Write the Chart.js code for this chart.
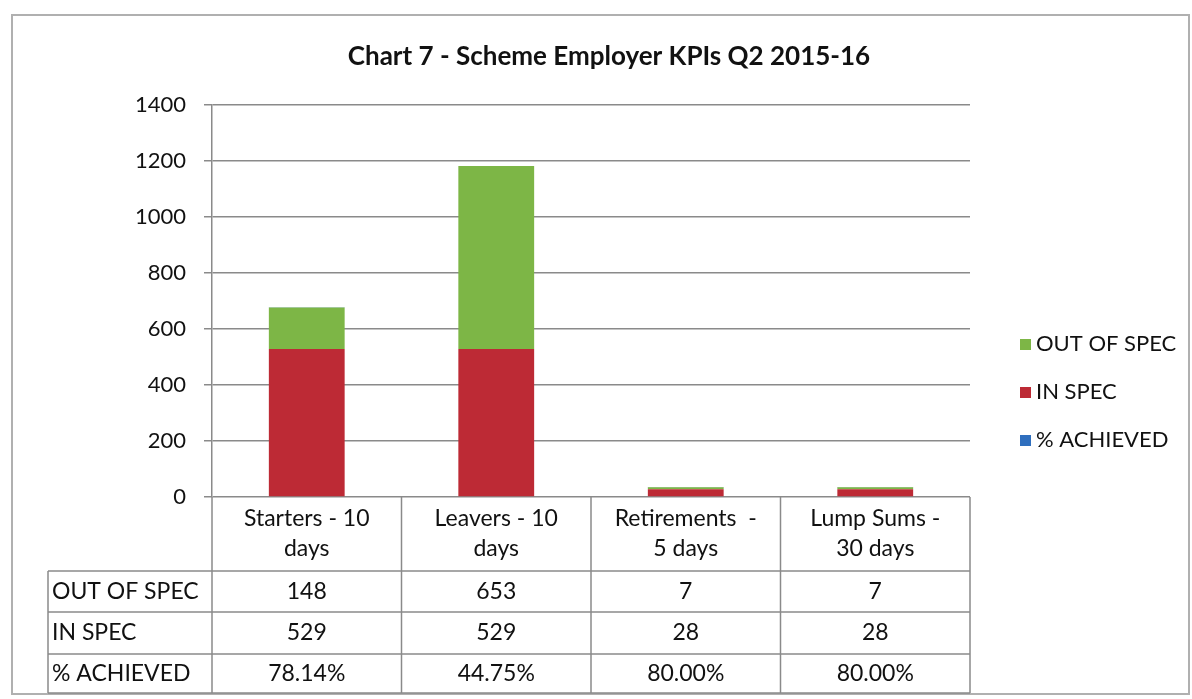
<!DOCTYPE html>
<html>
<head>
<meta charset="utf-8">
<script src="https://cdn.jsdelivr.net/npm/chart.js@4/dist/chart.umd.min.js"></script>
<style>
    html, body { margin: 0; padding: 0; background: #fff; }
    #wrap { width: 1192px; height: 699px; }
</style>
</head>
<body>
<div id="wrap"><canvas id="kpiChart" width="1192" height="699"></canvas></div>
<script>
const TITLE = 'Chart 7 - Scheme Employer KPIs Q2 2015-16';
const categories = [['Starters - 10', 'days'], ['Leavers - 10', 'days'], ['Retirements  -', '5 days'], ['Lump Sums -', '30 days']];
const seriesNames = ['OUT OF SPEC', 'IN SPEC', '% ACHIEVED'];
const outOfSpec = [148, 653, 7, 7];
const inSpec = [529, 529, 28, 28];
const achieved = [0.7814, 0.4475, 0.80, 0.80];
const achievedLabels = ['78.14%', '44.75%', '80.00%', '80.00%'];
const yTicks = [0, 200, 400, 600, 800, 1000, 1200, 1400];

const FONT = 'Lato, "Open Sans", sans-serif';
const GREEN = '#7db646';
const RED = '#bd2a35';
const BLUE = '#2f6fbe';
const LINE = '#8a8a8a';

// frame and title
const framePlugin = {
    id: 'frame',
    beforeDraw(chart) {
        const ctx = chart.ctx;
        ctx.save();
        ctx.fillStyle = '#fff';
        ctx.fillRect(0, 0, chart.width, chart.height);
        ctx.strokeStyle = '#b0b0b0';
        ctx.lineWidth = 2;
        ctx.strokeRect(12, 15, 1177, 679);
        ctx.fillStyle = '#111';
        ctx.font = 'bold 26px ' + FONT;
        ctx.textAlign = 'center';
        ctx.textBaseline = 'middle';
        ctx.fillText(TITLE, 609, 57);
        ctx.restore();
    }
};

// data table under the plot, drawn from the same arrays
const tablePlugin = {
    id: 'dataTable',
    afterDraw(chart) {
        const ctx = chart.ctx;
        const area = chart.chartArea;
        const xs = chart.scales.x;
        const colW = (area.right - area.left) / categories.length;
        const top = area.bottom;
        const headBottom = top + 74;
        const rowH = [41, 42, 39];
        const labelLeft = 48;
        const tableBottom = headBottom + rowH[0] + rowH[1] + rowH[2];

        ctx.save();
        ctx.strokeStyle = LINE;
        ctx.lineWidth = 1.5;

        for (let i = 0; i <= categories.length; i++) {
            const x = area.left + i * colW;
            ctx.beginPath();
            ctx.moveTo(x, top);
            ctx.lineTo(x, tableBottom);
            ctx.stroke();
        }
        ctx.beginPath();
        ctx.moveTo(labelLeft, headBottom);
        ctx.lineTo(labelLeft, tableBottom);
        ctx.stroke();

        let y = headBottom;
        const rowY = [];
        for (let r = 0; r <= rowH.length; r++) {
            ctx.beginPath();
            ctx.moveTo(labelLeft, y);
            ctx.lineTo(area.right, y);
            ctx.stroke();
            if (r < rowH.length) {
                rowY.push(y + rowH[r] / 2);
                y += rowH[r];
            }
        }

        ctx.fillStyle = '#111';
        ctx.font = '23px ' + FONT;
        ctx.textBaseline = 'middle';

        ctx.textAlign = 'center';
        categories.forEach((lines, i) => {
            const cx = xs.getPixelForValue(i);
            lines.forEach((t, k) => ctx.fillText(t, cx, top + 22 + k * 30));
        });

        ctx.textAlign = 'left';
        seriesNames.forEach((name, r) => ctx.fillText(name, labelLeft + 4, rowY[r]));

        const rows = [outOfSpec.map(String), inSpec.map(String), achievedLabels];
        ctx.textAlign = 'center';
        rows.forEach((vals, r) => {
            vals.forEach((v, i) => ctx.fillText(v, xs.getPixelForValue(i), rowY[r]));
        });

        // legend, in the order Excel shows it
        const legendX = 1020;
        const legendY = [344, 392, 440];
        ctx.font = '22px ' + FONT;
        seriesNames.forEach((name, i) => {
            const ds = chart.data.datasets.find(d => d.label === name);
            ctx.fillStyle = ds.backgroundColor;
            ctx.fillRect(legendX, legendY[i] - 5, 11, 11);
            ctx.fillStyle = '#111';
            ctx.textAlign = 'left';
            ctx.fillText(name, legendX + 16, legendY[i]);
        });
        ctx.restore();
    }
};

new Chart(document.getElementById('kpiChart'), {
    type: 'bar',
    data: {
        labels: categories.map(c => c.join(' ')),
        datasets: [
            { label: seriesNames[1], data: inSpec, backgroundColor: RED, stack: 's' },
            { label: seriesNames[0], data: outOfSpec, backgroundColor: GREEN, stack: 's' },
            { label: seriesNames[2], data: achieved, backgroundColor: BLUE, stack: 's' }
        ]
    },
    options: {
        responsive: false,
        animation: false,
        events: [],
        layout: { padding: { left: 0, right: 222, top: 105, bottom: 202 } },
        datasets: { bar: { categoryPercentage: 1, barPercentage: 0.4 } },
        scales: {
            x: {
                stacked: true,
                ticks: { display: false },
                grid: { display: false },
                border: { display: false },
                afterFit(scale) { scale.height = 0; }
            },
            y: {
                stacked: true,
                min: 0,
                max: 1400,
                afterBuildTicks(scale) { scale.ticks = yTicks.map(v => ({ value: v })); },
                ticks: {
                    color: '#111',
                    font: { family: FONT, size: 22 },
                    padding: 18,
                    callback: v => String(v)
                },
                grid: { color: LINE, lineWidth: 1.5, tickLength: 8 },
                border: { color: LINE, width: 1.5 },
                afterFit(scale) { scale.width = 212; }
            }
        },
        plugins: {
            legend: { display: false },
            tooltip: { enabled: false },
            title: { display: false }
        }
    },
    plugins: [framePlugin, tablePlugin]
});
</script>
</body>
</html>
